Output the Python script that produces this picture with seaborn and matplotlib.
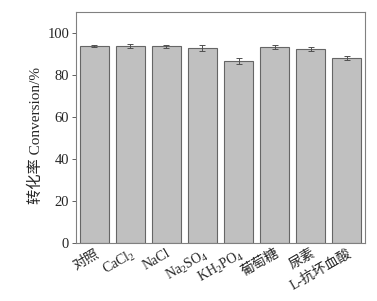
import numpy as np
import pandas as pd
import matplotlib
matplotlib.use('Agg')
import matplotlib.pyplot as plt
import seaborn as sns

# 数据
categorias = ['对照', 'CaCl$_2$', 'NaCl', 'Na$_2$SO$_4$', 'KH$_2$PO$_4$',
              '葡萄糖', '尿素', 'L-抗坏血酸']
conversion = [93.8, 93.8, 93.7, 92.9, 86.7, 93.3, 92.4, 88.1]
error = [0.4, 1.1, 0.6, 1.4, 1.4, 0.9, 0.8, 0.9]

sns.set_theme(style='ticks')
plt.rcParams['font.family'] = ['Liberation Serif', 'Noto Sans CJK SC']
plt.rcParams['mathtext.fontset'] = 'custom'
plt.rcParams['mathtext.rm'] = 'Liberation Serif'
plt.rcParams['mathtext.it'] = 'Liberation Serif'
plt.rcParams['axes.unicode_minus'] = False

df = pd.DataFrame({'cat': categorias, 'conv': conversion, 'err': error})

fig = plt.figure(figsize=(3.77, 3.01), dpi=100)
ax = fig.add_axes([0.202, 0.193, 0.766, 0.767])

sns.barplot(data=df, x='cat', y='conv', color='#c0c0c0', saturation=1,
            edgecolor='#666666', linewidth=0.8, width=0.8, errorbar=None, ax=ax)
ax.errorbar(np.arange(len(df)), df['conv'], yerr=df['err'], fmt='none',
            ecolor='#505050', elinewidth=0.7, capsize=2, capthick=0.7)

ax.set_ylim(0, 110)
ax.set_xlim(-0.5, 7.5)
ax.set_yticks([0, 20, 40, 60, 80, 100])
ax.set_xlabel('')
ax.set_ylabel('转化率 Conversion/%', fontsize=11)
ax.yaxis.set_label_coords(-0.115, 0.465)
ax.tick_params(axis='y', labelsize=10.5, length=3, width=0.7, color='#606060', pad=2)
ax.tick_params(axis='x', labelsize=10, length=0, pad=3)
plt.setp(ax.get_xticklabels(), rotation=30, ha='right', rotation_mode='anchor')

for s in ax.spines.values():
    s.set_color('#808080')
    s.set_linewidth(0.8)

plt.savefig('out.png', dpi=100)
plt.close()
